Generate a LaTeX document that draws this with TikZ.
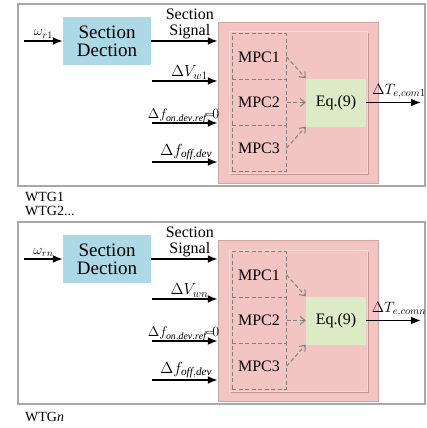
\RequirePackage{fix-cm}
\documentclass[tikz,border=0pt]{standalone}
\usepackage{fontspec}
\setmainfont{Liberation Serif}
\usetikzlibrary{arrows.meta, positioning, calc}
\definecolor{clrFrm} {RGB}{168,168,168}
\definecolor{clrPnk} {RGB}{242,196,194}
\definecolor{clrPnkD}{RGB}{196,150,148}
\definecolor{clrPnkL}{RGB}{250,214,212}
\definecolor{clrBlu} {RGB}{173,216,230}
\definecolor{clrGrn} {RGB}{221,234,198}
\definecolor{clrDsh} {RGB}{128,128,128}
\tikzset{
  frmbox/.style={rectangle, draw=clrFrm, line width=2.4pt, fill=white,
    minimum width=407pt, minimum height=182pt, inner sep=0pt},
  detbox/.style={rectangle, fill=clrBlu, minimum width=88pt, minimum height=48pt,
    inner sep=0pt, align=center, font=\fontsize{19}{18}\selectfont},
  pnkbox/.style={rectangle, fill=clrPnk, draw=clrPnk!85!black, line width=0.5pt,
    minimum width=160pt, minimum height=161pt, inner sep=0pt},
  inbox/.style={rectangle, fill=clrPnk, draw=clrPnkL, line width=1pt,
    minimum width=138pt, minimum height=141pt, inner sep=0pt},
  mpcbox/.style={rectangle, draw=clrDsh, dashed, line width=1pt,
    dash pattern=on 4pt off 2.5pt, minimum width=54pt, minimum height=45.7pt,
    inner sep=0pt, font=\fontsize{16}{16}\selectfont},
  eqbox/.style={rectangle, fill=clrGrn, minimum width=60pt, minimum height=48pt,
    inner sep=0pt, font=\fontsize{16}{16}\selectfont},
  arr/.style={-{Latex[length=10pt,width=8pt]}, line width=1.8pt, black},
  darr/.style={-{Straight Barb[length=5pt,width=8pt]}, clrDsh, line width=1pt,
    dash pattern=on 4pt off 2.5pt},
  lbl/.style={font=\fontsize{16}{16}\selectfont, inner sep=1pt},
  wtg/.style={font=\fontsize{14}{13}\selectfont, inner sep=0pt, anchor=west},
}
\begin{document}
\begin{tikzpicture}[x=1pt, y=-1pt]
\useasboundingbox (0,0) rectangle (427,428);
\foreach \k/\dy/\s in {1/0/1, 2/218/n}
{
  \node[frmbox] (frm\k) at (221.5, 95+\dy) {};
  \node[detbox] (det\k) at (107, 41+\dy) {Section\\Dection};
  \node[pnkbox] (pk\k) at (298, 102.5+\dy) {};
  % shadow of the inner panel
  \fill[clrPnkD] (230.5, 33.5+\dy) rectangle (368.5, 174.5+\dy);
  \node[inbox] (in\k) at (298, 102.5+\dy) {};
  \node[mpcbox] (mpcA\k) at (259, 56.8+\dy) {MPC1};
  \node[mpcbox] (mpcB\k) at (259, 102.5+\dy) {MPC2};
  \node[mpcbox] (mpcC\k) at (259, 148.2+\dy) {MPC3};
  \node[eqbox] (eq\k) at (336, 102.5+\dy) {Eq.(9)};
  \coordinate (w\k) at (24, 41+\dy);
  \coordinate (v\k) at (152, 81+\dy);
  \coordinate (fon\k) at (152, 123+\dy);
  \coordinate (foff\k) at (152, 162+\dy);
  \coordinate (out\k) at (421, 102.5+\dy);
  \draw[arr] (w\k) -- node[lbl, above=1pt, font=\fontsize{14}{14}\selectfont] {$\omega_{r\s}$} (det\k.west);
  \draw[arr] (det\k.east) -- node[lbl, above=0pt, pos=0.58, align=center] {Section\\Signal} (det\k.east -| pk\k.west);
  \draw[arr] (v\k) -- node[lbl, above=0pt, pos=0.57] {$\Delta V_{w\s}$} (v\k -| pk\k.west);
  \draw[arr] (fon\k) -- node[lbl, above=-2pt, pos=0.48, font=\fontsize{14}{14}\selectfont] {$\Delta f_{\mathit{on,dev,ref}}{\!=\!}0$} (fon\k -| pk\k.west);
  \draw[arr] (foff\k) -- node[lbl, above=0pt, pos=0.52] {$\Delta f_{\mathit{off,dev}}$} (foff\k -| pk\k.west);
  \draw[darr] (mpcA\k.east) -- (eq\k.north west);
  \draw[darr] (mpcB\k.east) -- (eq\k.west);
  \draw[darr] (mpcC\k.east) -- (eq\k.south west);
  \draw[arr] (eq\k.east) -- node[lbl, above=2pt, pos=0.6, font=\fontsize{15}{15}\selectfont] {$\Delta T_{e,com\s}$} (out\k);
}
\node[wtg] (wtgA) at (25, 197) {WTG1};
\node[wtg] (wtgB) at (25, 210.5) {WTG2...};
\node[wtg] (wtgN) at (25, 417) {WTG\textit{n}};
\end{tikzpicture}
\end{document}
